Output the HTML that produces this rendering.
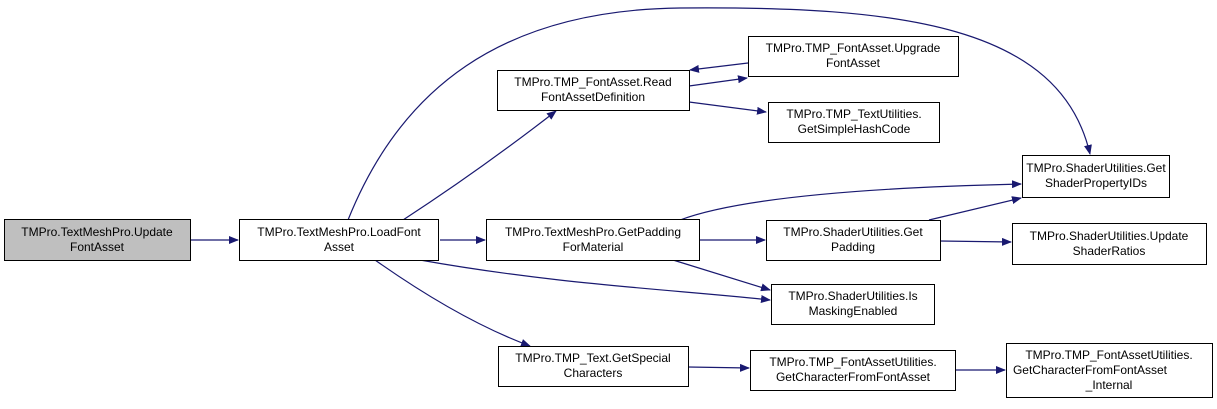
<!DOCTYPE html>
<html><head><meta charset="utf-8"><style>
html,body{margin:0;padding:0;background:#fff;}
svg text{font-family:"Liberation Sans",Arial,sans-serif;font-size:12px;fill:#000;text-anchor:middle;}
</style></head><body>
<svg width="1217" height="404" viewBox="0 0 1217 404" xmlns="http://www.w3.org/2000/svg">
<defs><marker id="a" markerWidth="10" markerHeight="8" refX="9" refY="4" orient="auto" markerUnits="userSpaceOnUse"><path d="M0,0 L10,4 L0,8 z" fill="#191970"/></marker></defs>
<g fill="none" stroke="#191970" stroke-width="1.2" marker-end="url(#a)">
<path d="M191,240 L238,240"/>
<path d="M440,240 L485,240"/>
<path d="M403,220 Q480,170 556,111"/>
<path d="M348,220 C400,90 500,10 680,8 C900,6 1060,25 1090,154"/>
<path d="M420,260 C560,285 680,290 770,300"/>
<path d="M375,260 Q460,320 530,346"/>
<path d="M689,86 L747,78"/>
<path d="M748,63 L690,70"/>
<path d="M689,102 L766,112"/>
<path d="M680,220 Q760,190 1021,184"/>
<path d="M700,240 L765,240"/>
<path d="M673,260 L770,290"/>
<path d="M929,220 L1021,198"/>
<path d="M940,241 L1011,242"/>
<path d="M688,367 L749,368"/>
<path d="M955,370 L1005,370"/>
</g>
<g stroke="#000" stroke-width="1" fill="#fff">
<rect x="4.5" y="219.5" width="186" height="41" fill="#bfbfbf"/>
<rect x="239.5" y="219.5" width="199" height="41"/>
<rect x="497.5" y="70.5" width="192" height="40"/>
<rect x="748.5" y="36.5" width="210" height="40"/>
<rect x="768.5" y="102.5" width="171" height="40"/>
<rect x="1022.5" y="155.5" width="147" height="42"/>
<rect x="486.5" y="219.5" width="213" height="41"/>
<rect x="766.5" y="220.5" width="174" height="40"/>
<rect x="1012.5" y="223.5" width="194" height="41"/>
<rect x="771.5" y="284.5" width="163" height="40"/>
<rect x="498.5" y="346.5" width="190" height="40"/>
<rect x="750.5" y="350.5" width="205" height="40"/>
<rect x="1006.5" y="343.5" width="206" height="54"/>
</g>
<text x="97" y="236">TMPro.TextMeshPro.Update</text><text x="97" y="251">FontAsset</text>
<text x="339" y="236">TMPro.TextMeshPro.LoadFont</text><text x="339" y="251">Asset</text>
<text x="593" y="86">TMPro.TMP_FontAsset.Read</text><text x="593" y="101">FontAssetDefinition</text>
<text x="853" y="52">TMPro.TMP_FontAsset.Upgrade</text><text x="853" y="67">FontAsset</text>
<text x="854" y="118">TMPro.TMP_TextUtilities.</text><text x="854" y="133">GetSimpleHashCode</text>
<text x="1096" y="172">TMPro.ShaderUtilities.Get</text><text x="1096" y="187">ShaderPropertyIDs</text>
<text x="593" y="236">TMPro.TextMeshPro.GetPadding</text><text x="593" y="251">ForMaterial</text>
<text x="853" y="236">TMPro.ShaderUtilities.Get</text><text x="853" y="251">Padding</text>
<text x="1109" y="240">TMPro.ShaderUtilities.Update</text><text x="1109" y="255">ShaderRatios</text>
<text x="853" y="300">TMPro.ShaderUtilities.Is</text><text x="853" y="315">MaskingEnabled</text>
<text x="593" y="362">TMPro.TMP_Text.GetSpecial</text><text x="593" y="377">Characters</text>
<text x="853" y="366">TMPro.TMP_FontAssetUtilities.</text><text x="853" y="381">GetCharacterFromFontAsset</text>
<text x="1109" y="359">TMPro.TMP_FontAssetUtilities.</text><text x="1090" y="374">GetCharacterFromFontAsset</text><text x="1109" y="389">_Internal</text>
</svg>
</body></html>
